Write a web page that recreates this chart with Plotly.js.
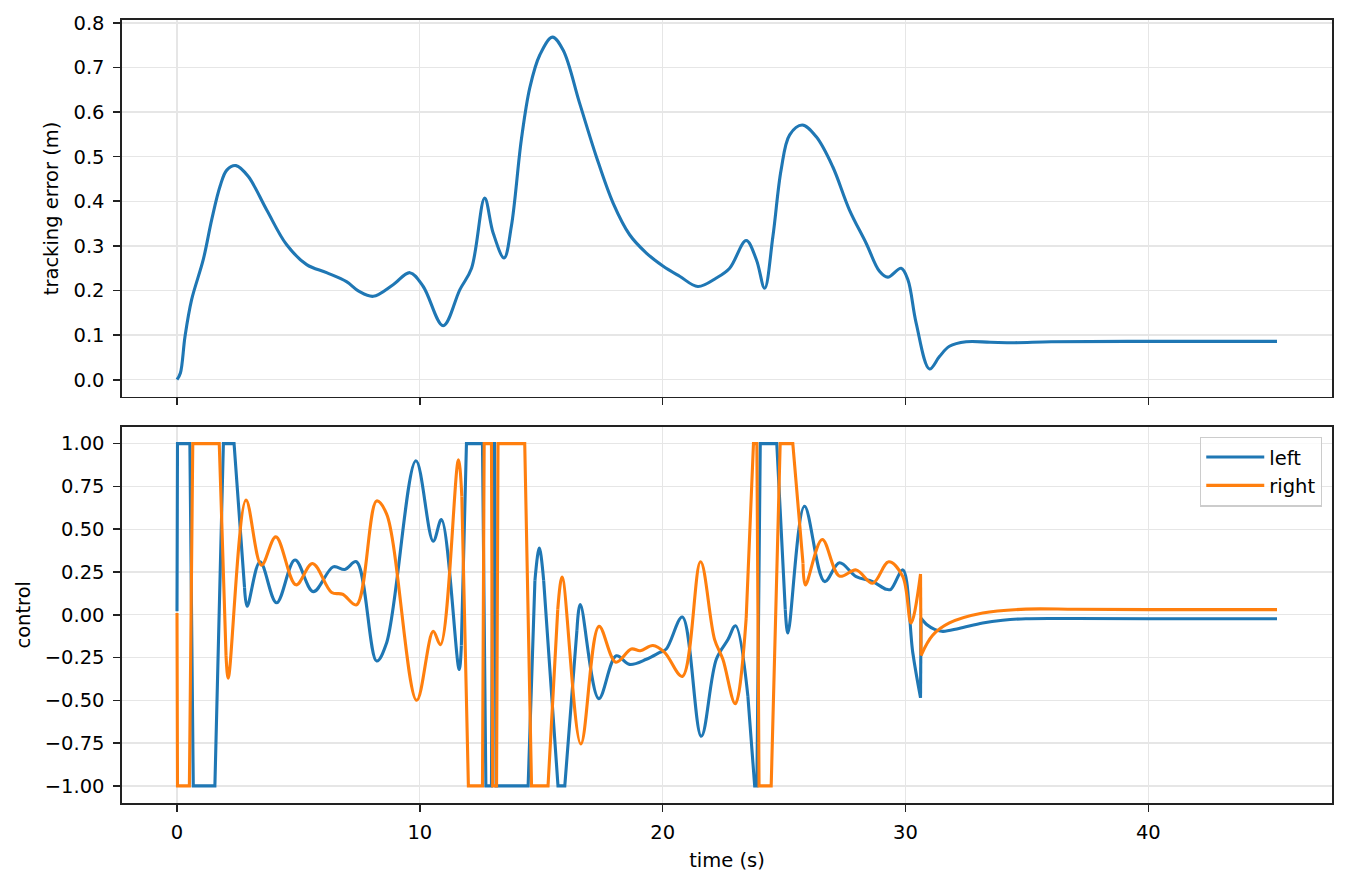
<!DOCTYPE html>
<html>
<head>
<meta charset="utf-8">
<script src="https://cdn.plot.ly/plotly-3.0.1.min.js"></script>
<style>html,body{margin:0;padding:0;background:#fff;}#chart{width:1347px;height:882px;}</style>
</head>
<body>
<div id="chart"></div>
<script>
// ---- tracking error (top panel) ----
const tErr = [0, 0.14, 0.33, 0.60, 1.08, 1.43, 1.77, 2.05, 2.43, 2.93, 3.69, 4.51, 5.34, 6.16, 6.98, 7.5, 8.08, 8.90, 9.59, 10.14, 10.96, 11.65, 12.13, 12.67, 13.02, 13.47, 13.77, 14.18, 14.53, 14.94, 15.46, 15.90, 16.58, 17.27, 17.96, 18.64, 19.33, 20.01, 20.70, 21.45, 22.21, 22.76, 23.44, 23.86, 24.20, 24.54, 24.88, 25.23, 25.75, 26.32, 27.0, 27.69, 28.38, 28.93, 29.27, 29.82, 30.1, 30.44, 30.99, 31.4, 31.81, 32.5, 33.5, 34.5, 36, 40, 45.3];
const err  = [0, 0.015, 0.097, 0.179, 0.269, 0.359, 0.433, 0.47, 0.480, 0.456, 0.381, 0.303, 0.258, 0.240, 0.220, 0.198, 0.187, 0.213, 0.240, 0.209, 0.121, 0.202, 0.250, 0.407, 0.329, 0.273, 0.344, 0.538, 0.655, 0.728, 0.768, 0.739, 0.620, 0.500, 0.396, 0.325, 0.284, 0.255, 0.232, 0.209, 0.228, 0.250, 0.312, 0.269, 0.205, 0.321, 0.471, 0.549, 0.571, 0.545, 0.478, 0.381, 0.306, 0.243, 0.230, 0.250, 0.224, 0.127, 0.024, 0.052, 0.075, 0.085, 0.084, 0.083, 0.085, 0.086, 0.086];

// ---- control (bottom panel) ----
const tLeft = [0, 0.02, 0.53, 0.67, 1.56, 1.91, 2.35, 2.78, 2.89, 3.42, 4.10, 4.86, 5.61, 6.43, 6.91, 7.39, 8.22, 8.63, 9.84, 10.55, 10.89, 11.62, 11.71, 11.92, 12.58, 12.72, 12.95, 13.02, 13.08, 13.14, 14.46, 14.74, 14.92, 15.10, 15.69, 15.97, 16.47, 16.61, 17.37, 18.09, 18.64, 19.33, 19.88, 20.15, 20.81, 21.59, 22.21, 22.69, 23.0, 23.51, 23.79, 23.88, 24.02, 24.70, 25.05, 25.16, 25.84, 26.67, 27.28, 27.97, 28.65, 29.2, 29.4, 29.89, 30.3, 30.62, 30.64, 30.9, 31.2, 31.54, 32.2, 33.18, 34.0, 34.96, 37, 40, 45.3];
const left  = [0.02, 1, 1, -1, -1, 1, 1, 0.16, 0.05, 0.31, 0.07, 0.32, 0.135, 0.28, 0.265, 0.31, -0.27, -0.165, 0.90, 0.43, 0.556, -0.32, -0.18, 1, 1, -1, -1, 1, 1, -1, -1, 0.2, 0.39, 0.2, -1, -1, -0.09, 0.06, -0.49, -0.24, -0.29, -0.26, -0.22, -0.20, -0.013, -0.71, -0.26, -0.145, -0.064, -0.475, -1, -1, 1, 1, 0.03, -0.107, 0.634, 0.194, 0.304, 0.223, 0.194, 0.149, 0.149, 0.262, -0.22, -0.485, -0.02, -0.06, -0.085, -0.097, -0.08, -0.048, -0.032, -0.023, -0.022, -0.023, -0.023];

const tRight = [0, 0.02, 0.51, 0.65, 1.74, 2.02, 2.11, 2.84, 3.48, 4.07, 4.90, 5.58, 6.37, 6.82, 7.39, 8.22, 8.63, 9.87, 10.55, 10.85, 11.59, 11.73, 12.0, 12.58, 12.65, 12.95, 13.0, 13.16, 13.22, 14.32, 14.6, 15.28, 15.68, 15.86, 16.63, 17.38, 18.07, 18.71, 19.08, 19.6, 20.08, 20.81, 21.56, 22.14, 22.48, 22.99, 23.44, 23.74, 23.88, 23.97, 24.47, 24.84, 25.36, 25.78, 25.88, 26.57, 27.28, 27.97, 28.65, 29.31, 29.89, 30.23, 30.62, 30.64, 31.12, 31.81, 33.18, 34.96, 37, 40, 45.3];
const right  = [0.01, -1, -1, 1, 1, -0.24, -0.37, 0.67, 0.29, 0.455, 0.175, 0.30, 0.13, 0.12, 0.058, 0.665, 0.59, -0.50, -0.097, -0.175, 0.905, 0.69, -1, -1, 1, 1, -1, -1, 1, 1, -1, -1, 0.03, 0.22, -0.755, -0.068, -0.277, -0.20, -0.21, -0.18, -0.22, -0.36, 0.31, -0.145, -0.26, -0.52, -0.02, 1, 1, -1, -1, 1, 1, 0.30, 0.174, 0.44, 0.226, 0.262, 0.184, 0.31, 0.223, -0.048, 0.238, -0.238, -0.12, -0.048, 0.010, 0.033, 0.032, 0.03, 0.03];

const yTicks1 = [0, 0.1, 0.2, 0.3, 0.4, 0.5, 0.6, 0.7, 0.8];
const yTicks2 = [-1, -0.75, -0.5, -0.25, 0, 0.25, 0.5, 0.75, 1];
const xTicks = [0, 10, 20, 30, 40];

const BLUE = '#1f77b4', ORANGE = '#ff7f0e';
const FONT = {family: 'DejaVu Sans', size: 19.5, color: '#000'};

// Split a series into runs: saturated / near-vertical steps are drawn straight,
// the smooth parts with the library's spline.
function seriesTraces(t, v, name, color) {
  const out = [];
  const isHard = i => Math.abs(v[i]) >= 0.999 || Math.abs(v[i + 1]) >= 0.999 || (t[i + 1] - t[i]) < 0.05;
  let start = 0, hard = isHard(0);
  const push = (a, b, h) => {
    out.push({
      x: t.slice(a, b + 1), y: v.slice(a, b + 1), xaxis: 'x2', yaxis: 'y2', mode: 'lines',
      line: {color: color, width: 3.1, shape: h ? 'linear' : 'spline', smoothing: 1},
      name: name, legendgroup: name, showlegend: out.length === 0
    });
  };
  for (let i = 1; i < t.length - 1; i++) {
    const h = isHard(i);
    if (h !== hard) { push(start, i, hard); start = i; hard = h; }
  }
  push(start, t.length - 1, hard);
  return out;
}

const traces = [
  {x: tErr, y: err, xaxis: 'x', yaxis: 'y', mode: 'lines', line: {color: BLUE, width: 3.1, shape: 'spline', smoothing: 1}, showlegend: false, name: 'error'}
].concat(seriesTraces(tLeft, left, 'left', BLUE), seriesTraces(tRight, right, 'right', ORANGE));

const axCommon = {
  showline: true, mirror: true, linecolor: '#222', linewidth: 1.6,
  ticks: 'outside', ticklen: 7, tickwidth: 1.6, tickcolor: '#222',
  showgrid: true, gridcolor: '#e6e6e6', gridwidth: 1.3, zeroline: false,
  tickfont: FONT, automargin: false
};

const layout = {
  width: 1347, height: 882,
  margin: {l: 122, r: 15, t: 20, b: 79, pad: 0},
  paper_bgcolor: '#fff', plot_bgcolor: '#fff',
  font: FONT,
  xaxis: Object.assign({}, axCommon, {domain: [0, 1], anchor: 'y', range: [-2.265, 47.565], tickvals: xTicks, showticklabels: false}),
  yaxis: Object.assign({}, axCommon, {domain: [0.5187, 1], anchor: 'x', range: [-0.0384, 0.8064], tickvals: yTicks1, tickformat: '.1f', ticklabelstandoff: 5,
    title: {text: 'tracking error (m)', font: FONT, standoff: 9}}),
  xaxis2: Object.assign({}, axCommon, {domain: [0, 1], anchor: 'y2', range: [-2.265, 47.565], tickvals: xTicks, ticklabelstandoff: 4,
    title: {text: 'time (s)', font: FONT, standoff: 10}}),
  yaxis2: Object.assign({}, axCommon, {domain: [0, 0.4808], anchor: 'x2', range: [-1.1, 1.1], tickvals: yTicks2, tickformat: '.2f', ticklabelstandoff: 5,
    title: {text: 'control', font: FONT, standoff: 9}}),
  legend: {x: 0.9917, y: 0.468, xanchor: 'right', yanchor: 'top', bgcolor: 'rgba(255,255,255,0.8)', bordercolor: '#cccccc', borderwidth: 1.3, font: FONT, tracegroupgap: 0, itemwidth: 58}
};

Plotly.newPlot('chart', traces, layout, {displayModeBar: false, staticPlot: true});
</script>
</body>
</html>
